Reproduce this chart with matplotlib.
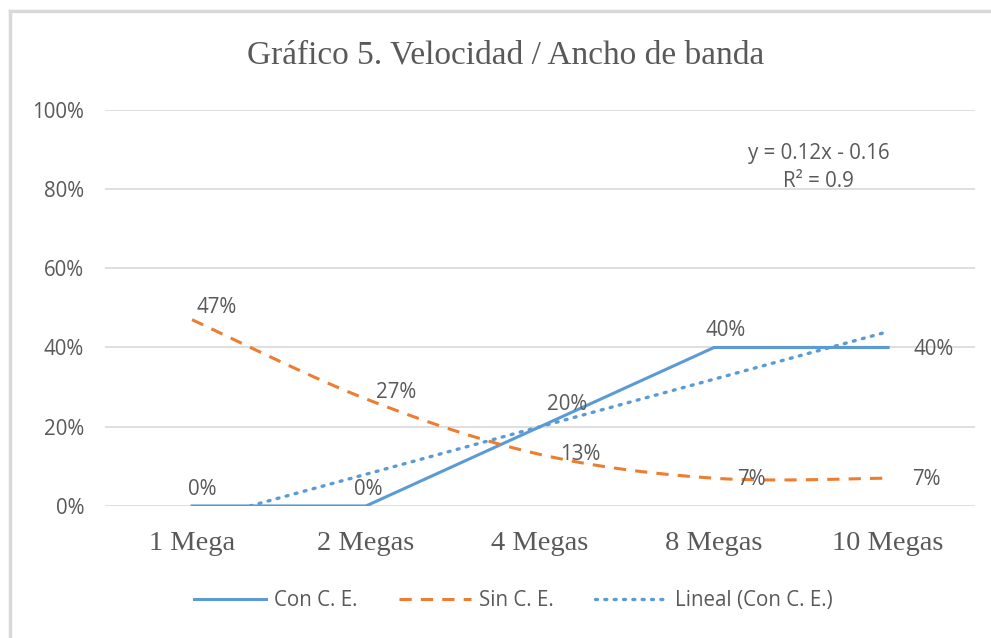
import numpy as np
import matplotlib
matplotlib.use("Agg")
import matplotlib.pyplot as plt
from matplotlib.lines import Line2D

categorias = ["1 Mega", "2 Megas", "4 Megas", "8 Megas", "10 Megas"]
con_ce = [0.00, 0.00, 0.20, 0.40, 0.40]
sin_ce = [0.47, 0.27, 0.13, 0.07, 0.07]
pendiente, intercepto, r2 = 0.12, -0.16, 0.9
titulo = "Gráfico 5. Velocidad / Ancho de banda"

AZUL = "#5B9BD5"
NARANJA = "#ED7D31"
TEXTO = "#595959"
GRID = "#D9D9D9"
SANS = "Open Sans"
SERIF = "Liberation Serif"
FS = 14.8


def suavizar(x, y, n=30):
    # curva tipo Excel (Catmull-Rom) entre los puntos
    x = np.asarray(x, float)
    y = np.asarray(y, float)
    px = np.concatenate([[x[0]], x, [x[-1]]])
    py = np.concatenate([[y[0]], y, [y[-1]]])
    xs, ys = [], []
    t = np.linspace(0, 1, n)[:, None]
    for i in range(1, len(px) - 2):
        p0, p1, p2, p3 = [np.array([px[j], py[j]]) for j in range(i - 1, i + 3)]
        c = 0.5 * ((2 * p1) + (-p0 + p2) * t + (2 * p0 - 5 * p1 + 4 * p2 - p3) * t ** 2
                   + (-p0 + 3 * p1 - 3 * p2 + p3) * t ** 3)
        xs.extend(c[:, 0])
        ys.extend(c[:, 1])
    return np.array(xs), np.array(ys)


fig = plt.figure(figsize=(9.91, 6.38), dpi=100)
ax = fig.add_axes([0.106, 0.207, 0.878, 0.621])

x = np.arange(len(categorias))
ax.plot(x, con_ce, "-", color=AZUL, lw=2.2, label="Con C. E.", zorder=3)
xs, ys = suavizar(x, sin_ce)
ax.plot(xs, ys, color=NARANJA, lw=2.2, dashes=(4, 3), label="Sin C. E.", zorder=3)

# linea de tendencia (x de Excel empieza en 1), recortada en 0
x0 = max(-intercepto / pendiente - 1, 0)
xt = np.array([x0, len(categorias) - 1])
yt = pendiente * (xt + 1) + intercepto
ax.plot(xt, yt, color=AZUL, lw=2.4, dashes=(0.6, 2.2), dash_capstyle="round",
        label="Lineal (Con C. E.)", zorder=2)

# etiquetas de datos
off_con = [(10, 16), (2, 16), (27, 22), (12, 17), (45, -2)]
off_sin = [(25, 12), (30, 6), (40, 0), (37, -1), (38, -1)]
for i, v in enumerate(con_ce):
    ax.annotate(f"{v:.0%}", (x[i], v), xytext=off_con[i], textcoords="offset pixels",
                ha="center", va="center", fontsize=FS, color=TEXTO, family=SANS, zorder=4)
for i, v in enumerate(sin_ce):
    ax.annotate(f"{v:.0%}", (x[i], v), xytext=off_sin[i], textcoords="offset pixels",
                ha="center", va="center", fontsize=FS, color=TEXTO, family=SANS, zorder=4)

ax.text(3.6, 0.855, f"y = {pendiente}x - {abs(intercepto)}\nR² = {r2}", ha="center", va="center",
        fontsize=FS, color=TEXTO, family=SANS, linespacing=1.45)

ax.set_xlim(-0.5, len(categorias) - 0.5)
ax.set_ylim(0, 1)
ax.set_yticks(np.arange(0, 1.01, 0.2))
ax.set_yticklabels([f"{v:.0%}" for v in np.arange(0, 1.01, 0.2)], family=SANS, fontsize=FS, color=TEXTO)
ax.set_xticks(x)
ax.set_xticklabels(categorias, family=SERIF, fontsize=20.5, color=TEXTO)
ax.tick_params(axis="x", length=0, pad=18)
ax.tick_params(axis="y", length=0, pad=15)
ax.grid(axis="y", color=GRID, lw=1.2)
ax.set_axisbelow(True)
for s in ax.spines.values():
    s.set_visible(False)

fig.text(0.51, 0.913, titulo, ha="center", va="center", family=SERIF, fontsize=24, color=TEXTO)

leg = fig.legend(loc="center", bbox_to_anchor=(0.518, 0.058), ncol=3, frameon=False,
                 handlelength=3.5, columnspacing=2.0, handletextpad=0.4,
                 prop={"family": SANS, "size": FS})
for t in leg.get_texts():
    t.set_color(TEXTO)

# borde del recuadro (solo arriba e izquierda visibles)
fig.add_artist(Line2D([10 / 991, 1], [1 - 11 / 638, 1 - 11 / 638], transform=fig.transFigure,
                      color=GRID, lw=2.5))
fig.add_artist(Line2D([10 / 991, 10 / 991], [0, 1 - 11 / 638], transform=fig.transFigure,
                      color=GRID, lw=2.5))

fig.savefig("out.png", dpi=100)
